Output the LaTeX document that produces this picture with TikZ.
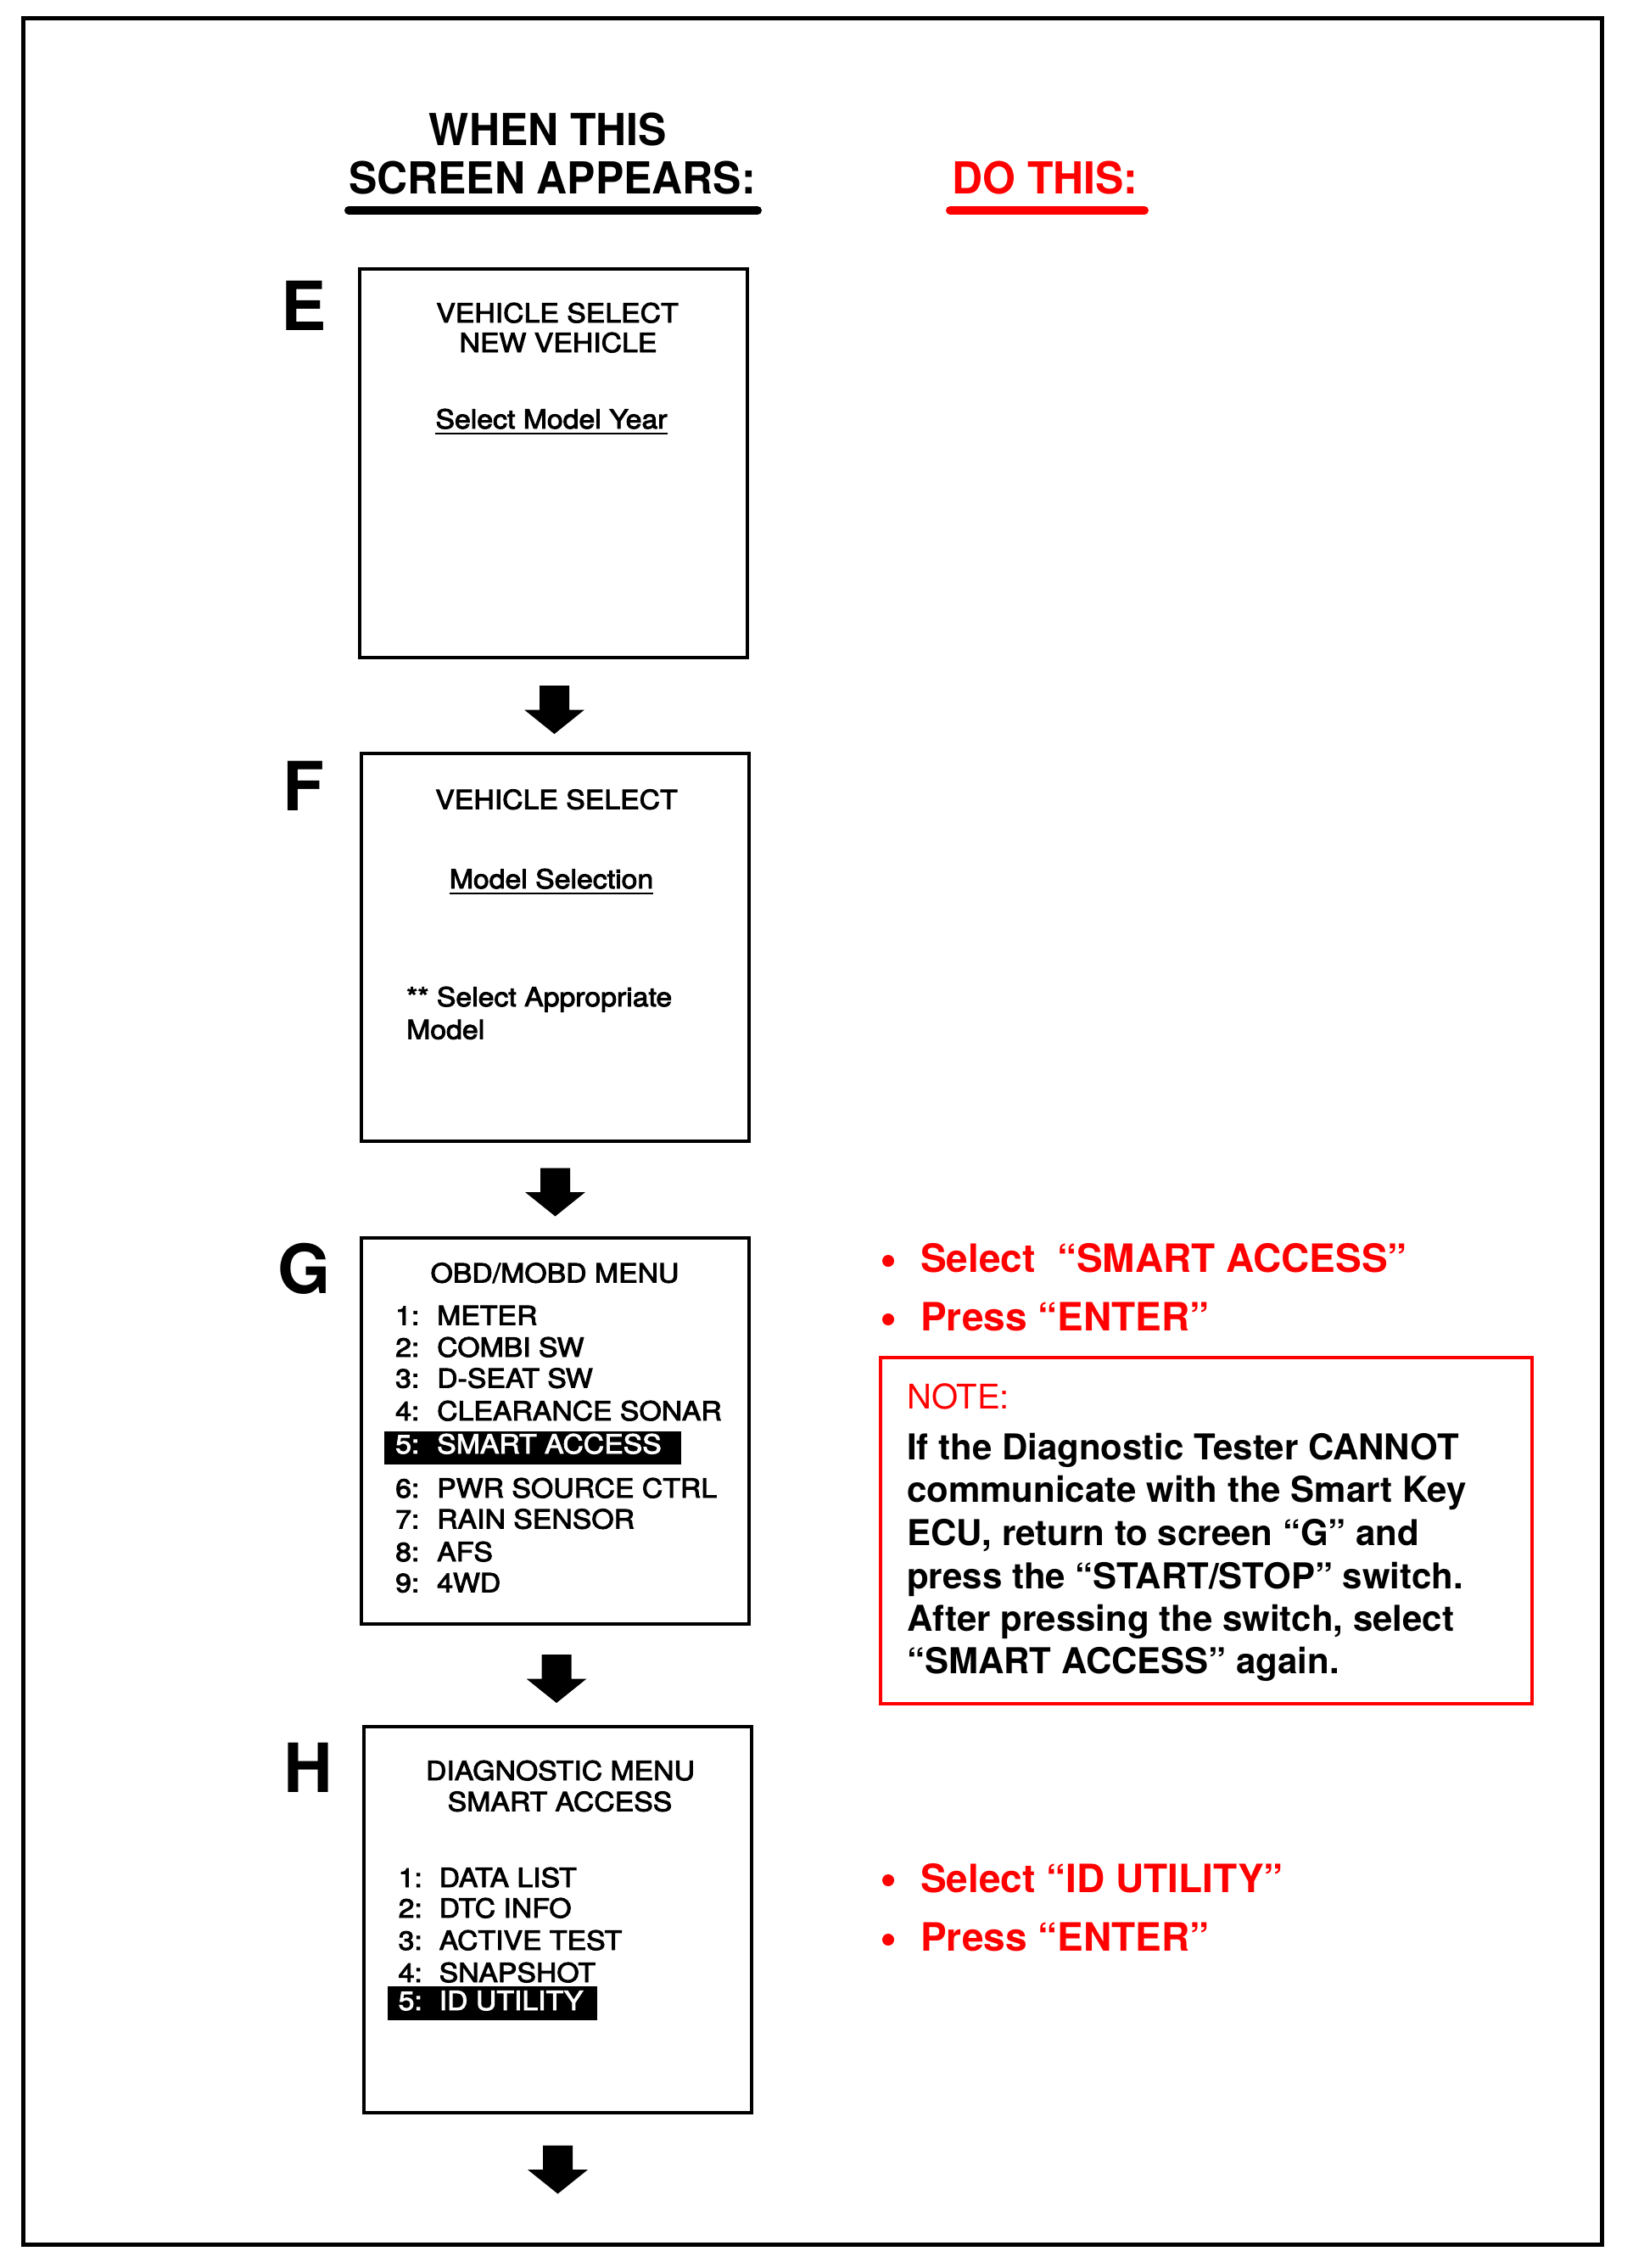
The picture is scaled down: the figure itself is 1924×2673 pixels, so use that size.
\documentclass[tikz,border=0pt]{standalone}
\usepackage{fontspec}
\setmainfont{TeX Gyre Heros}
\newfontfamily\hv{TeX Gyre Heros}
\newfontfamily\scr{TeX Gyre Heros}[FakeStretch=1.09, FakeBold=3]
\newfontfamily\hdr{TeX Gyre Heros}[FakeStretch=0.96]
\usetikzlibrary{calc}
\definecolor{dored}{RGB}{255,0,0}
\tikzset{
  screen/.style={draw, line width=4pt, minimum width=457pt, minimum height=455pt, inner sep=0pt},
  lbl/.style={font=\hv\bfseries\fontsize{80}{80}\selectfont, anchor=base, inner sep=0pt},
  hdrtxt/.style={font=\hdr\bfseries\fontsize{52}{52}\selectfont, anchor=base, inner sep=0pt},
  ctxt/.style={font=\scr\fontsize{31}{31}\selectfont, anchor=base, inner sep=0pt},
  ltxt/.style={font=\scr\fontsize{31}{31}\selectfont, anchor=base west, inner sep=0pt},
  wtxt/.style={ltxt, text=white},
  hlbar/.style={fill=black},
  redtxt/.style={text=dored, font=\hv\bfseries\fontsize{46}{46}\selectfont, anchor=base west, inner sep=0pt},
  bul/.style={circle, fill=dored, minimum size=14pt, inner sep=0pt},
  notehead/.style={text=dored, font=\hv\fontsize{40}{40}\selectfont, anchor=base west, inner sep=0pt},
  notetxt/.style={font=\hv\bfseries\fontsize{42}{42}\selectfont, anchor=base west, inner sep=0pt},
  uline/.style={line width=2.5pt},
  downarr/.pic={\fill (-17.5,-28.5) -- (17.5,-28.5) -- (17.5,0) -- (35.5,0) -- (0,28.5) -- (-35.5,0) -- (-17.5,0) -- cycle;}
}
\begin{document}
\begin{tikzpicture}[x=1pt,y=-1pt]
\useasboundingbox (0,0) rectangle (1924,2673);
\node[draw, line width=5pt, minimum width=1861pt, minimum height=2623pt, inner sep=0pt] (frame) at (957.5,1333.5) {};

% header
\node[hdrtxt] (h1) at (646,172) {WHEN THIS};
\node[hdrtxt] (h2) at (651,229) {SCREEN APPEARS:};
\node[hdrtxt, text=dored] (h3) at (1232,229) {DO THIS:};
\draw[line width=10pt, line cap=round] (411,248) -- (893,248);
\draw[dored, line width=10pt, line cap=round] (1120,248) -- (1349,248);

% screens
\node[screen, minimum height=458pt] (E) at (652.5,546) {};
\node[screen, minimum height=457pt] (F) at (654.5,1116.5) {};
\node[screen] (G) at (654.5,1686.5) {};
\node[screen] (H) at (657.5,2262.5) {};

% letters
\node[lbl] (lE) at (358,389) {E};
\node[lbl] (lF) at (358,955) {F};
\node[lbl] (lG) at (359,1524) {G};
\node[lbl] (lH) at (363,2112) {H};

% E
\node[ctxt] (e1) at (657,380) {VEHICLE SELECT};
\node[ctxt] (e2) at (658,415) {NEW VEHICLE};
\node[ctxt] (e3) at (650,505) {Select Model Year};
\draw[uline] ($(e3.base west)+(0,6)$) -- ($(e3.base east)+(0,6)$);

% F
\node[ctxt] (f1) at (656,953.5) {VEHICLE SELECT};
\node[ctxt] (f2) at (650,1047) {Model Selection};
\draw[uline] ($(f2.base west)+(0,6)$) -- ($(f2.base east)+(0,6)$);
\node[ltxt] (f3) at (479,1186) {** Select Appropriate};
\node[ltxt] (f4) at (479,1224.5) {Model};

% G
\node[ctxt] (g0) at (654,1511.5) {OBD/MOBD MENU};
\fill[hlbar] (453,1686.5) rectangle (803,1726);
\node[ltxt] (g1n) at (466,1561.5) {1:}; \node[ltxt] (g1) at (515,1561.5) {METER};
\node[ltxt] (g2n) at (466,1599) {2:}; \node[ltxt] (g2) at (515,1599) {COMBI SW};
\node[ltxt] (g3n) at (466,1635.5) {3:}; \node[ltxt] (g3) at (515,1635.5) {D-SEAT SW};
\node[ltxt] (g4n) at (466,1674) {4:}; \node[ltxt] (g4) at (515,1674) {CLEARANCE SONAR};
\node[wtxt] (g5n) at (466,1713) {5:}; \node[wtxt] (g5) at (515,1713) {SMART ACCESS};
\node[ltxt] (g6n) at (466,1765) {6:}; \node[ltxt] (g6) at (515,1765) {PWR SOURCE CTRL};
\node[ltxt] (g7n) at (466,1801.5) {7:}; \node[ltxt] (g7) at (515,1801.5) {RAIN SENSOR};
\node[ltxt] (g8n) at (466,1840) {8:}; \node[ltxt] (g8) at (515,1840) {AFS};
\node[ltxt] (g9n) at (466,1876.5) {9:}; \node[ltxt] (g9) at (515,1876.5) {4WD};

% H
\node[ctxt] (hh1) at (660.5,2098) {DIAGNOSTIC MENU};
\node[ctxt] (hh2) at (660,2134.5) {SMART ACCESS};
\fill[hlbar] (456.5,2340.5) rectangle (703.5,2380.5);
\node[ltxt] (k1n) at (469.5,2224) {1:}; \node[ltxt] (k1) at (517.5,2224) {DATA LIST};
\node[ltxt] (k2n) at (469.5,2260) {2:}; \node[ltxt] (k2) at (517.5,2260) {DTC INFO};
\node[ltxt] (k3n) at (469.5,2298) {3:}; \node[ltxt] (k3) at (517.5,2298) {ACTIVE TEST};
\node[ltxt] (k4n) at (469.5,2336) {4:}; \node[ltxt] (k4) at (517.5,2336) {SNAPSHOT};
\node[wtxt] (k5n) at (469.5,2369) {5:}; \node[wtxt] (k5) at (517.5,2369) {ID UTILITY};

% arrows
\pic at ($($(E.south)!0.5!(F.north)$)+(0,5)$) {downarr};
\pic at ($($(F.south)!0.5!(G.north)$)+(0,3)$) {downarr};
\pic at ($($(G.south)!0.5!(H.north)$)+(0,4)$) {downarr};
\coordinate (endH) at ($(H.south)+(0,65)$);
\pic at (endH) {downarr};

% DO THIS for G
\node[bul] (b1) at (1047,1486) {};
\node[redtxt] (r1) at (1085,1499) {Select \ “SMART ACCESS”};
\node[bul] (b2) at (1047,1555) {};
\node[redtxt] (r2) at (1085,1568) {Press “ENTER”};

\node[draw=dored, line width=4pt, minimum width=768pt, minimum height=408pt, inner sep=0pt] (note) at (1422,1804) {};
\node[notehead] (n0) at (1069,1660) {NOTE:};
\node[notetxt] (n1) at (1069,1720.5) {If the Diagnostic Tester CANNOT};
\node[notetxt] (n2) at (1069,1770.5) {communicate with the Smart Key};
\node[notetxt] (n3) at (1069,1821.5) {ECU, return to screen “G” and};
\node[notetxt] (n4) at (1069,1872.5) {press the “START/STOP” switch.};
\node[notetxt] (n5) at (1069,1922) {After pressing the switch, select};
\node[notetxt] (n6) at (1069,1972) {“SMART ACCESS” again.};

% DO THIS for H
\node[bul] (b3) at (1047,2216) {};
\node[redtxt] (r3) at (1085,2230) {Select “ID UTILITY”};
\node[bul] (b4) at (1047,2286) {};
\node[redtxt] (r4) at (1085,2299) {Press “ENTER”};
\end{tikzpicture}
\end{document}
